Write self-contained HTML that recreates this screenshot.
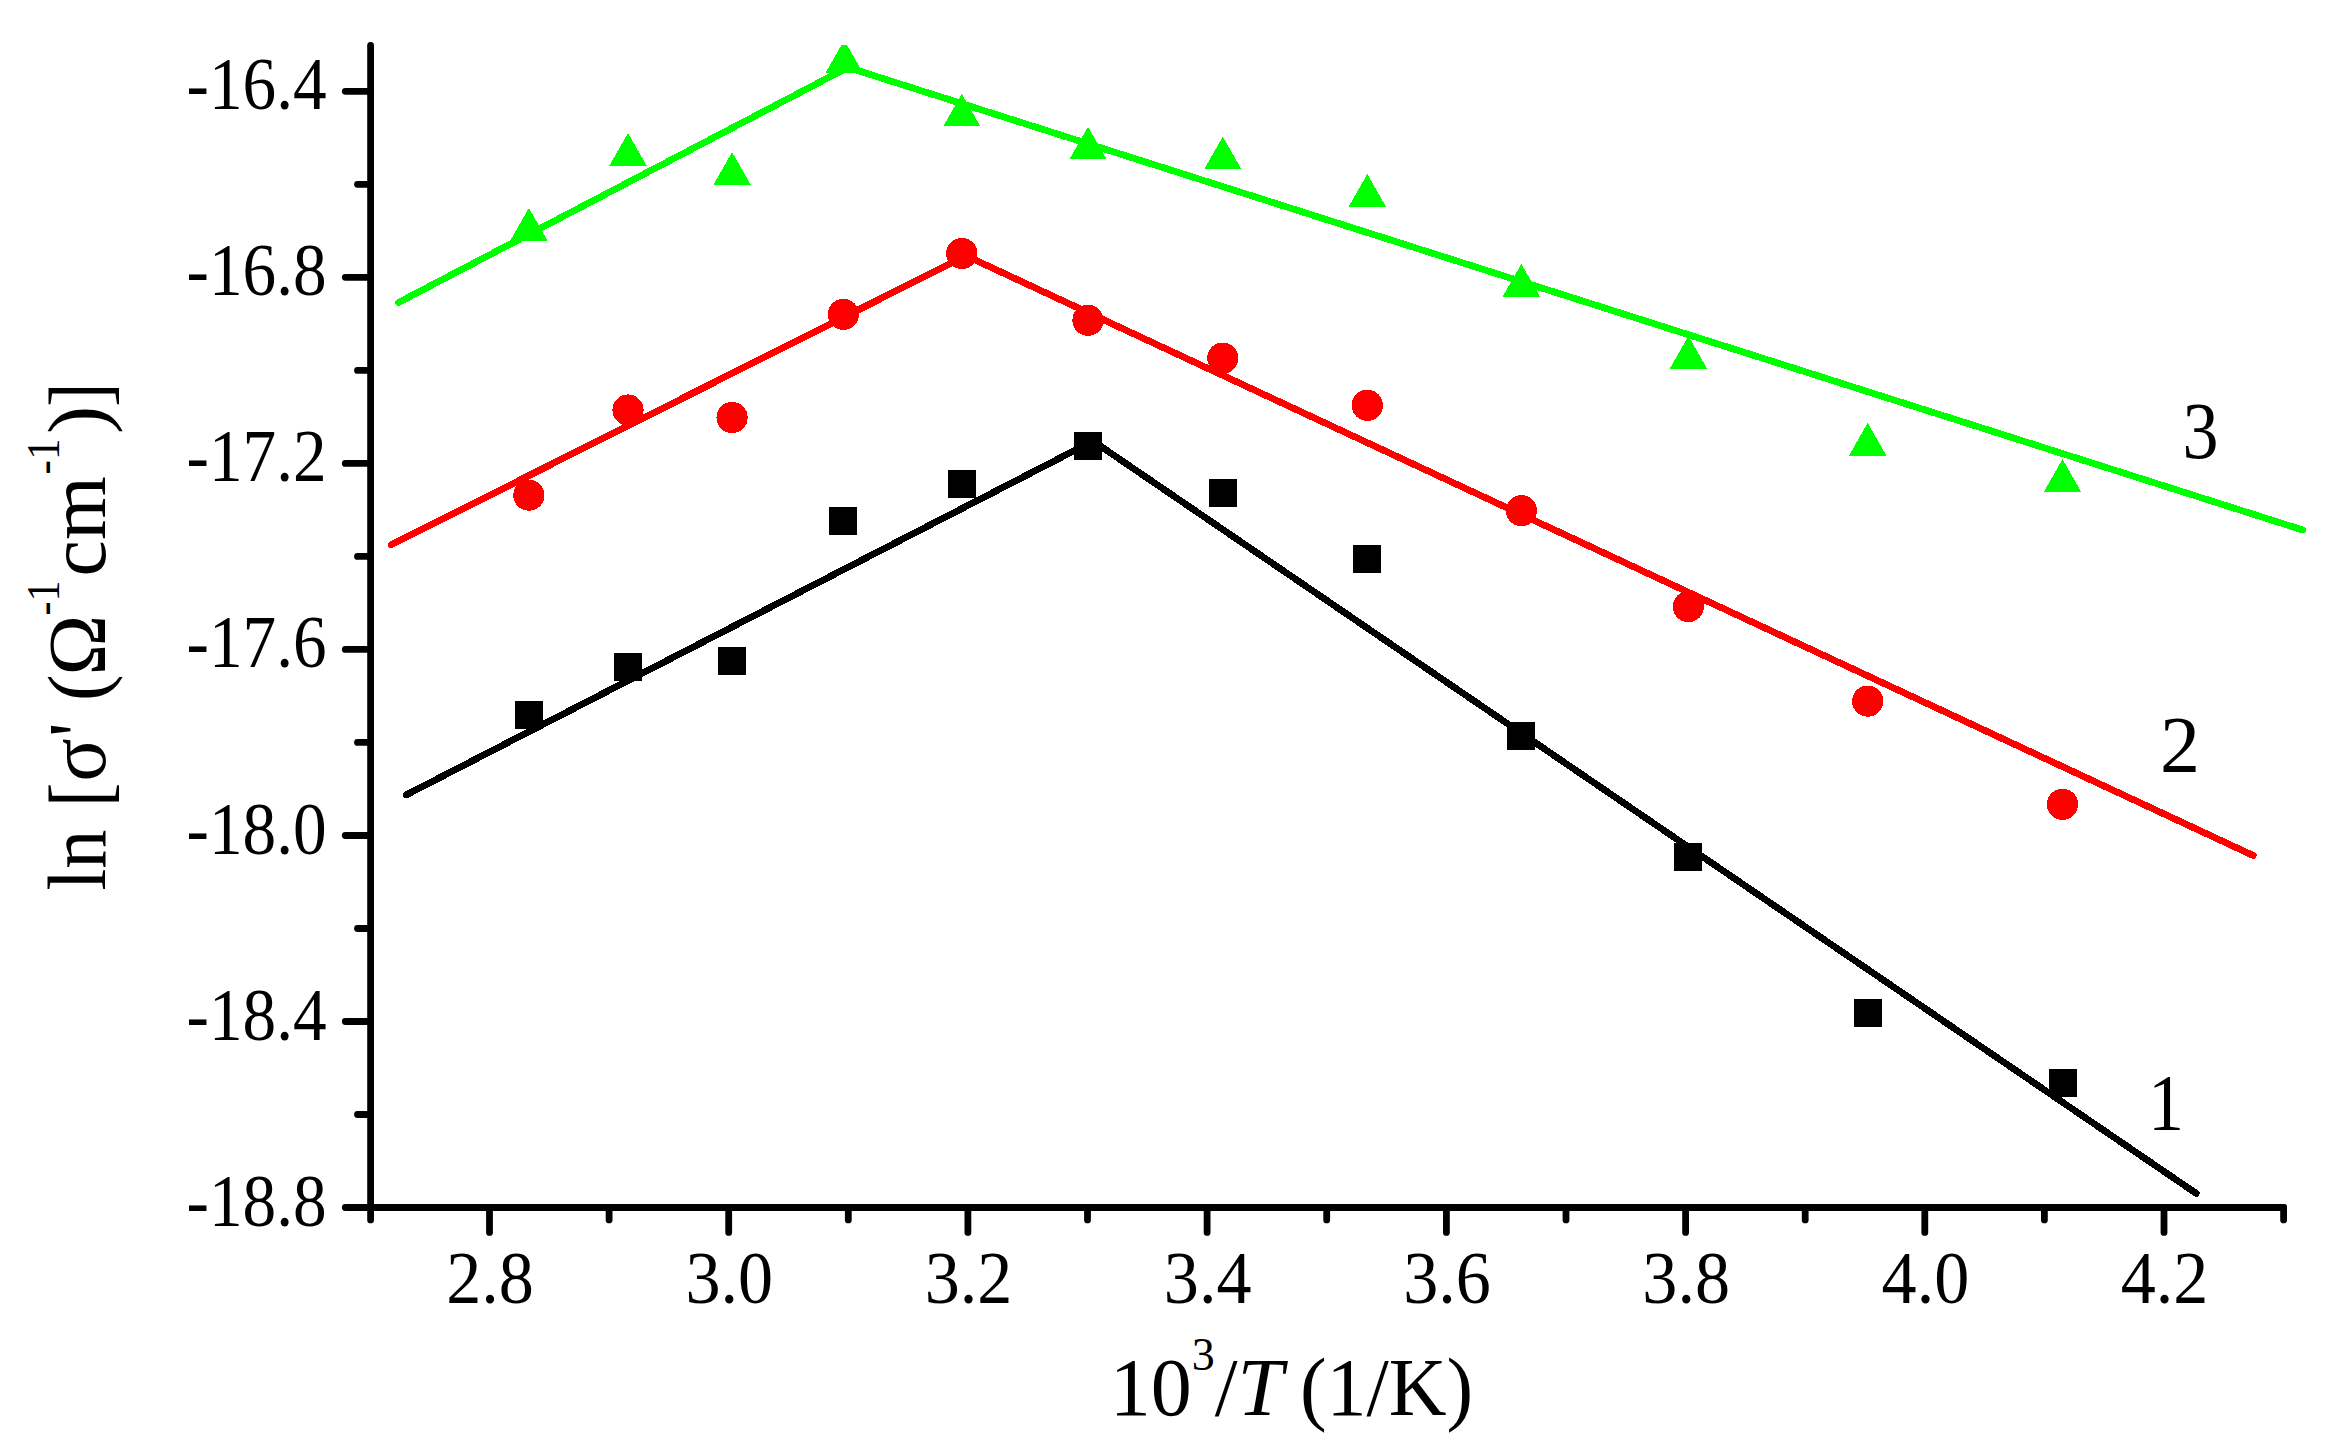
<!DOCTYPE html>
<html lang="en"><head><meta charset="utf-8"><title>ln sigma vs 1000/T</title>
<style>html,body{margin:0;padding:0;background:#fff}svg{display:block}text{font-family:"Liberation Serif","Times New Roman",serif;fill:#000}.tk{font-size:74px}.ttl{font-size:82px}.num{font-size:80px}.sup{font-size:46px}</style></head><body>
<svg width="2335" height="1437" viewBox="0 0 2335 1437">
<rect width="2335" height="1437" fill="#fff"/>
<g stroke="#000" stroke-width="6.8" stroke-linecap="round" fill="none">
<line x1="370.6" y1="45.3" x2="370.6" y2="1219.9"/>
<line x1="345.3" y1="1207.5" x2="2283.6" y2="1207.5"/>
<line x1="345.3" y1="91.3" x2="370.6" y2="91.3"/>
<line x1="357.5" y1="184.3" x2="370.6" y2="184.3"/>
<line x1="345.3" y1="277.3" x2="370.6" y2="277.3"/>
<line x1="357.5" y1="370.4" x2="370.6" y2="370.4"/>
<line x1="345.3" y1="463.4" x2="370.6" y2="463.4"/>
<line x1="357.5" y1="556.4" x2="370.6" y2="556.4"/>
<line x1="345.3" y1="649.4" x2="370.6" y2="649.4"/>
<line x1="357.5" y1="742.4" x2="370.6" y2="742.4"/>
<line x1="345.3" y1="835.5" x2="370.6" y2="835.5"/>
<line x1="357.5" y1="928.5" x2="370.6" y2="928.5"/>
<line x1="345.3" y1="1021.5" x2="370.6" y2="1021.5"/>
<line x1="357.5" y1="1114.5" x2="370.6" y2="1114.5"/>
<line x1="489.5" y1="1207.5" x2="489.5" y2="1232.4"/>
<line x1="609.1" y1="1207.5" x2="609.1" y2="1219.9"/>
<line x1="728.7" y1="1207.5" x2="728.7" y2="1232.4"/>
<line x1="848.3" y1="1207.5" x2="848.3" y2="1219.9"/>
<line x1="967.9" y1="1207.5" x2="967.9" y2="1232.4"/>
<line x1="1087.5" y1="1207.5" x2="1087.5" y2="1219.9"/>
<line x1="1207.1" y1="1207.5" x2="1207.1" y2="1232.4"/>
<line x1="1326.7" y1="1207.5" x2="1326.7" y2="1219.9"/>
<line x1="1446.4" y1="1207.5" x2="1446.4" y2="1232.4"/>
<line x1="1566.0" y1="1207.5" x2="1566.0" y2="1219.9"/>
<line x1="1685.6" y1="1207.5" x2="1685.6" y2="1232.4"/>
<line x1="1805.2" y1="1207.5" x2="1805.2" y2="1219.9"/>
<line x1="1924.8" y1="1207.5" x2="1924.8" y2="1232.4"/>
<line x1="2044.4" y1="1207.5" x2="2044.4" y2="1219.9"/>
<line x1="2164.0" y1="1207.5" x2="2164.0" y2="1232.4"/>
<line x1="2283.6" y1="1207.5" x2="2283.6" y2="1219.9"/>
</g>
<g class="tk" text-anchor="end">
<text transform="translate(326.7,109.3) scale(0.909,1)">-16.4</text>
<text transform="translate(326.7,295.3) scale(0.909,1)">-16.8</text>
<text transform="translate(326.7,481.4) scale(0.909,1)">-17.2</text>
<text transform="translate(326.7,667.4) scale(0.909,1)">-17.6</text>
<text transform="translate(326.7,853.5) scale(0.909,1)">-18.0</text>
<text transform="translate(326.7,1039.5) scale(0.909,1)">-18.4</text>
<text transform="translate(326.7,1225.5) scale(0.909,1)">-18.8</text>
</g>
<g class="tk" text-anchor="middle">
<text transform="translate(490.1,1302.7) scale(0.948,1)">2.8</text>
<text transform="translate(729.3,1302.7) scale(0.948,1)">3.0</text>
<text transform="translate(968.5,1302.7) scale(0.948,1)">3.2</text>
<text transform="translate(1207.7,1302.7) scale(0.948,1)">3.4</text>
<text transform="translate(1447.0,1302.7) scale(0.948,1)">3.6</text>
<text transform="translate(1686.2,1302.7) scale(0.948,1)">3.8</text>
<text transform="translate(1925.4,1302.7) scale(0.948,1)">4.0</text>
<text transform="translate(2164.6,1302.7) scale(0.948,1)">4.2</text>
</g>
<defs><clipPath id="plot"><rect x="374" y="44.9" width="1961" height="1159.2"/></clipPath></defs>
<g clip-path="url(#plot)" shape-rendering="crispEdges">
<g fill="none" stroke-width="6.8" stroke-linecap="round" stroke-linejoin="round">
<polyline stroke="#000" points="406.1,795 1093,441 2196.2,1193.4"/>
<polyline stroke="#f00" points="391.1,544.9 966,255.7 2253.2,855.5"/>
<polyline stroke="#0f0" points="398.5,302.5 847.9,67.4 2302.8,530"/>
</g>
<g fill="#000">
<rect x="514.9" y="701.2" width="28" height="28"/>
<rect x="614.0" y="653.1" width="28" height="28"/>
<rect x="718.1" y="646.8" width="28" height="28"/>
<rect x="829.4" y="507.2" width="28" height="28"/>
<rect x="947.8" y="469.8" width="28" height="28"/>
<rect x="1074.0" y="431.9" width="28" height="28"/>
<rect x="1208.8" y="478.8" width="28" height="28"/>
<rect x="1353.3" y="545.0" width="28" height="28"/>
<rect x="1507.4" y="721.8" width="28" height="28"/>
<rect x="1674.4" y="842.8" width="28" height="28"/>
<rect x="1853.7" y="999.4" width="28" height="28"/>
<rect x="2048.5" y="1068.9" width="28" height="28"/>
</g><g fill="#f00">
<circle cx="528.9" cy="495.2" r="15.6"/>
<circle cx="628.0" cy="410.0" r="15.6"/>
<circle cx="732.1" cy="417.5" r="15.6"/>
<circle cx="843.4" cy="314.4" r="15.6"/>
<circle cx="961.8" cy="253.5" r="15.6"/>
<circle cx="1088.0" cy="320.3" r="15.6"/>
<circle cx="1222.8" cy="358.1" r="15.6"/>
<circle cx="1367.3" cy="405.3" r="15.6"/>
<circle cx="1521.4" cy="510.7" r="15.6"/>
<circle cx="1688.4" cy="606.6" r="15.6"/>
<circle cx="1867.7" cy="701.1" r="15.6"/>
<circle cx="2062.5" cy="804.3" r="15.6"/>
</g><g fill="#0f0">
<polygon points="510.3,240.6 547.5,240.6 528.9,208.0"/>
<polygon points="609.4,165.6 646.6,165.6 628.0,133.0"/>
<polygon points="713.5,184.7 750.7,184.7 732.1,152.1"/>
<polygon points="825.6,72.7 862.8,72.7 844.2,40.1"/>
<polygon points="943.2,126.4 980.4,126.4 961.8,93.8"/>
<polygon points="1069.4,159.4 1106.6,159.4 1088.0,126.8"/>
<polygon points="1204.2,169.3 1241.4,169.3 1222.8,136.7"/>
<polygon points="1348.7,206.6 1385.9,206.6 1367.3,174.0"/>
<polygon points="1502.8,296.5 1540.0,296.5 1521.4,263.9"/>
<polygon points="1669.8,368.6 1707.0,368.6 1688.4,336.0"/>
<polygon points="1849.1,455.5 1886.3,455.5 1867.7,422.9"/>
<polygon points="2043.9,491.7 2081.1,491.7 2062.5,459.1"/>
</g></g>
<g class="num" text-anchor="middle">
<text transform="translate(2166.0,1130) scale(0.9,1)">1</text>
<text transform="translate(2180.0,771.9) scale(1,1)">2</text>
<text transform="translate(2200.5,457.8) scale(0.9,1)">3</text>
</g>
<g class="ttl">
<text x="1109.8" y="1414.8">10<tspan class="sup" dy="-45.2">3</tspan><tspan dy="45.2">/</tspan><tspan font-style="italic">T</tspan></text>
<text transform="translate(1299.9,1414.8) scale(0.976,1)">(1/K)</text>
</g>
<g class="ttl">
<text transform="translate(104.6,890.5) rotate(-90) scale(0.954,1)">ln</text>
<text transform="translate(108.1,807.0) rotate(-90) scale(0.895,1.043)">[</text>
<text transform="translate(104.6,781.5) rotate(-90) scale(0.977,1)">σ</text>
<text transform="translate(104.6,737.0) rotate(-90) scale(0.992,1)">'</text>
<text transform="translate(104.6,701.0) rotate(-90) scale(0.972,1)">(</text>
<text transform="translate(104.6,675.5) rotate(-90) scale(0.996,1)">Ω</text>
<text class="sup" transform="translate(58.6,615.5) rotate(-90) scale(0.918,1)">-1</text>
<text transform="translate(104.6,576.5) rotate(-90) scale(1.000,1)">cm</text>
<text class="sup" transform="translate(58.6,474.5) rotate(-90) scale(0.939,1)">-1</text>
<text transform="translate(104.6,434.0) rotate(-90) scale(1.033,1)">)</text>
<text transform="translate(108.1,407.0) rotate(-90) scale(0.901,1.043)">]</text>
</g>
</svg></body></html>
